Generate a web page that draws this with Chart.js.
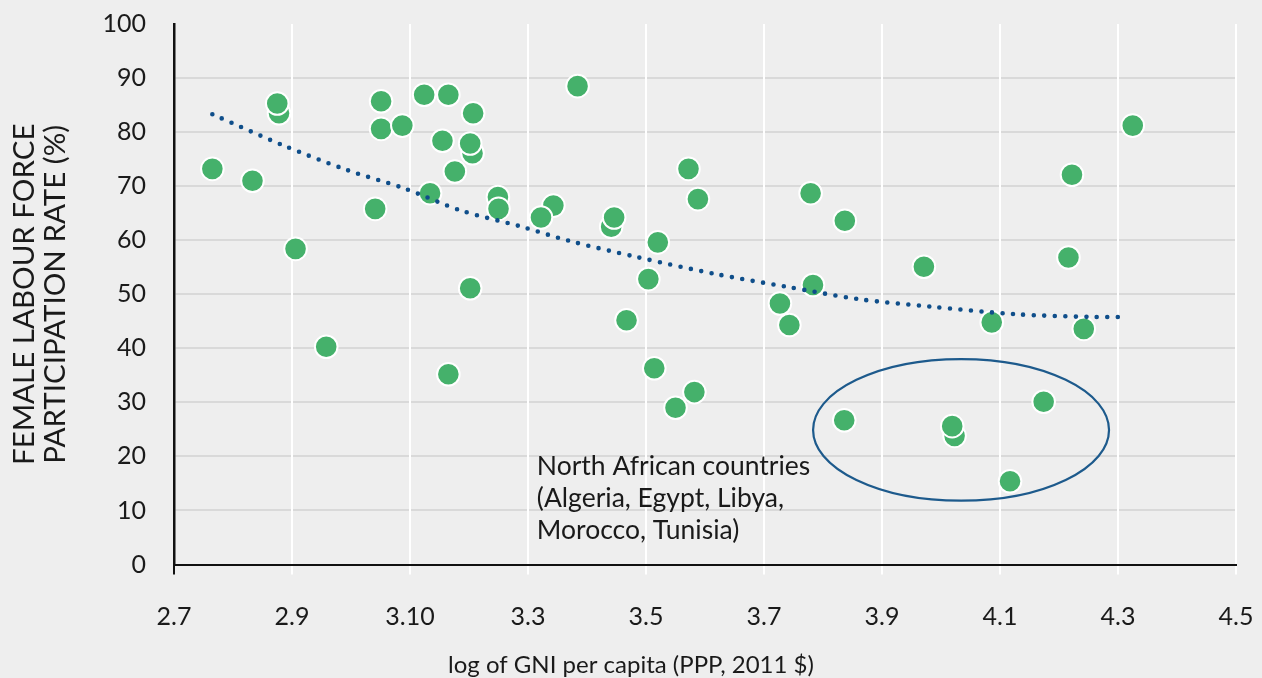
<!DOCTYPE html>
<html>
<head>
<meta charset="utf-8">
<title>Female labour force participation vs GNI per capita</title>
<script src="https://cdn.jsdelivr.net/npm/chart.js@4.4.1/dist/chart.umd.min.js"></script>
<style>
  html, body { margin: 0; padding: 0; background: #eeeeee; }
  #wrap { width: 1262px; height: 678px; position: relative; }
</style>
</head>
<body>
<div id="wrap"><canvas id="lfpr-chart"></canvas></div>
<script>
// log GNI per capita (x) and female labour force participation (y), one entry per country
const gniLog = [
  2.765, 2.833, 2.878, 2.875, 2.906, 2.958, 3.041, 3.051, 3.051, 3.087,
  3.124, 3.165, 3.207, 3.155, 3.206, 3.202, 3.176, 3.134, 3.165, 3.202,
  3.249, 3.250, 3.343, 3.322, 3.384, 3.441, 3.446, 3.467, 3.504, 3.520,
  3.514, 3.550, 3.582, 3.572, 3.588, 3.727, 3.743, 3.779, 3.783, 3.837,
  3.836, 3.971, 4.023, 4.019, 4.086, 4.117, 4.174, 4.216, 4.222, 4.242,
  4.325
];
const femaleLfpr = [
  73.2, 71.0, 83.5, 85.3, 58.4, 40.3, 65.8, 85.7, 80.6, 81.2,
  86.9, 86.9, 83.5, 78.4, 76.1, 77.9, 72.7, 68.7, 35.2, 51.1,
  68.0, 65.8, 66.4, 64.2, 88.5, 62.5, 64.2, 45.2, 52.8, 59.6,
  36.3, 29.0, 31.9, 73.2, 67.6, 48.3, 44.3, 68.7, 51.7, 63.6,
  26.7, 55.1, 23.8, 25.6, 44.8, 15.4, 30.1, 56.8, 72.1, 43.6,
  81.2
];

// fitted trend
const trendGni  = [2.765, 2.886, 2.993, 3.090, 3.186, 3.286, 3.369, 3.484, 3.620, 3.738, 3.860, 3.984, 4.127, 4.254, 4.312];
const trendLfpr = [83.3, 77.5, 73.0, 69.6, 65.5, 62.6, 59.9, 56.9, 53.7, 51.4, 49.1, 47.7, 46.3, 45.8, 45.8];

const xTickValues = [2.7, 2.9, 3.1, 3.3, 3.5, 3.7, 3.9, 4.1, 4.3, 4.5];
const xTickLabels = ['2.7', '2.9', '3.10', '3.3', '3.5', '3.7', '3.9', '4.1', '4.3', '4.5'];

// North Africa callout: ellipse centre / radii and note anchor, in axis units
const ringCentre = [4.034, 24.9];
const ringRadius = [0.2508, 13.1];
const noteAnchor = [3.315, 16.6];
const noteLines = ['North African countries', '(Algeria, Egypt, Libya,', 'Morocco, Tunisia)'];

const xTitle = 'log of GNI per capita (PPP, 2011 $)';
const INK = '#1a1a1a';

const northAfricaCallout = {
  id: 'northAfricaCallout',
  afterDatasetsDraw(chart) {
    const { ctx, scales: { x, y } } = chart;
    const cx = x.getPixelForValue(ringCentre[0]);
    const cy = y.getPixelForValue(ringCentre[1]);
    const rx = x.getPixelForValue(ringCentre[0] + ringRadius[0]) - cx;
    const ry = cy - y.getPixelForValue(ringCentre[1] + ringRadius[1]);
    ctx.save();
    ctx.beginPath();
    ctx.ellipse(cx, cy, rx, ry, 0, 0, Math.PI * 2);
    ctx.strokeStyle = '#1d5a8c';
    ctx.lineWidth = 2.2;
    ctx.stroke();

    ctx.font = '26.5px Lato';
    ctx.fillStyle = INK;
    ctx.textAlign = 'left';
    ctx.textBaseline = 'alphabetic';
    const tx = x.getPixelForValue(noteAnchor[0]);
    const ty = y.getPixelForValue(noteAnchor[1]);
    noteLines.forEach((line, i) => ctx.fillText(line, tx, ty + i * 32));
    ctx.restore();
  }
};

// x-axis title sits centred on the whole canvas, not on the plot area
const bottomTitle = {
  id: 'bottomTitle',
  afterDraw(chart) {
    const { ctx, width, height } = chart;
    ctx.save();
    ctx.font = '24px Lato';
    ctx.fillStyle = INK;
    ctx.textAlign = 'center';
    ctx.textBaseline = 'alphabetic';
    ctx.fillText(xTitle, width / 2, height - 5);
    ctx.restore();
  }
};

function drawChart() {
  const ctx = document.getElementById('lfpr-chart').getContext('2d');
  new Chart(ctx, {
    type: 'scatter',
    data: {
      datasets: [
        {
          label: 'Trend',
          data: trendGni.map((g, i) => ({ x: g, y: trendLfpr[i] })),
          showLine: true,
          borderColor: '#0f4e8a',
          borderWidth: 4.6,
          borderDash: [0, 10.5],
          borderCapStyle: 'round',
          tension: 0.3,
          pointRadius: 0,
          pointHoverRadius: 0
        },
        {
          label: 'Countries',
          data: gniLog.map((g, i) => ({ x: g, y: femaleLfpr[i] })),
          backgroundColor: '#45b16b',
          borderColor: '#ffffff',
          borderWidth: 2,
          pointRadius: 11.3,
          pointHoverRadius: 11.3
        }
      ]
    },
    options: {
      responsive: true,
      maintainAspectRatio: false,
      animation: false,
      layout: { autoPadding: false, padding: { top: 24, right: 26, left: 0, bottom: 0 } },
      scales: {
        x: {
          type: 'linear',
          min: 2.7,
          max: 4.5,
          afterBuildTicks: s => { s.ticks = xTickValues.map(v => ({ value: v })); },
          // fixed band for labels + title; the label overhang is covered by layout padding
          afterFit: s => { s.height = 113.5; s.paddingLeft = 0; s.paddingRight = 0; },
          ticks: {
            callback: (v, i) => xTickLabels[i],
            font: { family: 'Lato', size: 25 },
            color: INK,
            padding: 27,
            maxRotation: 0,
            autoSkip: false
          },
          grid: {
            z: -1,
            color: c => (c.index === 0 ? '#111111' : '#ffffff'),
            tickColor: c => (c.index === 0 ? '#111111' : '#ffffff'),
            lineWidth: 2,
            tickWidth: 2,
            tickLength: 10,
            drawTicks: true
          },
          border: { display: true, color: '#111111', width: 2 }
        },
        y: {
          min: 0,
          max: 100,
          afterFit: s => { s.width = 174; s.paddingTop = 0; s.paddingBottom = 0; },
          ticks: {
            stepSize: 10,
            font: { family: 'Lato', size: 25 },
            color: INK,
            padding: 28
          },
          grid: {
            z: -2,
            color: c => (c.tick.value === 100 ? 'rgba(0,0,0,0)' : '#d9d9d9'),
            lineWidth: 2,
            drawTicks: false
          },
          border: { display: true, color: '#111111', width: 2.5 },
          title: {
            display: true,
            text: ['FEMALE LABOUR FORCE', 'PARTICIPATION RATE (%)'],
            font: { family: 'Lato', size: 29.5, lineHeight: 1.05 },
            color: INK,
            padding: { top: 9, bottom: 0 }
          }
        }
      },
      plugins: {
        legend: { display: false },
        tooltip: { enabled: false },
        title: { display: false }
      }
    },
    plugins: [northAfricaCallout, bottomTitle]
  });
}

Promise.all([
  document.fonts.load('25px Lato'),
  document.fonts.load('29.5px Lato')
]).then(drawChart, drawChart);
</script>
</body>
</html>
